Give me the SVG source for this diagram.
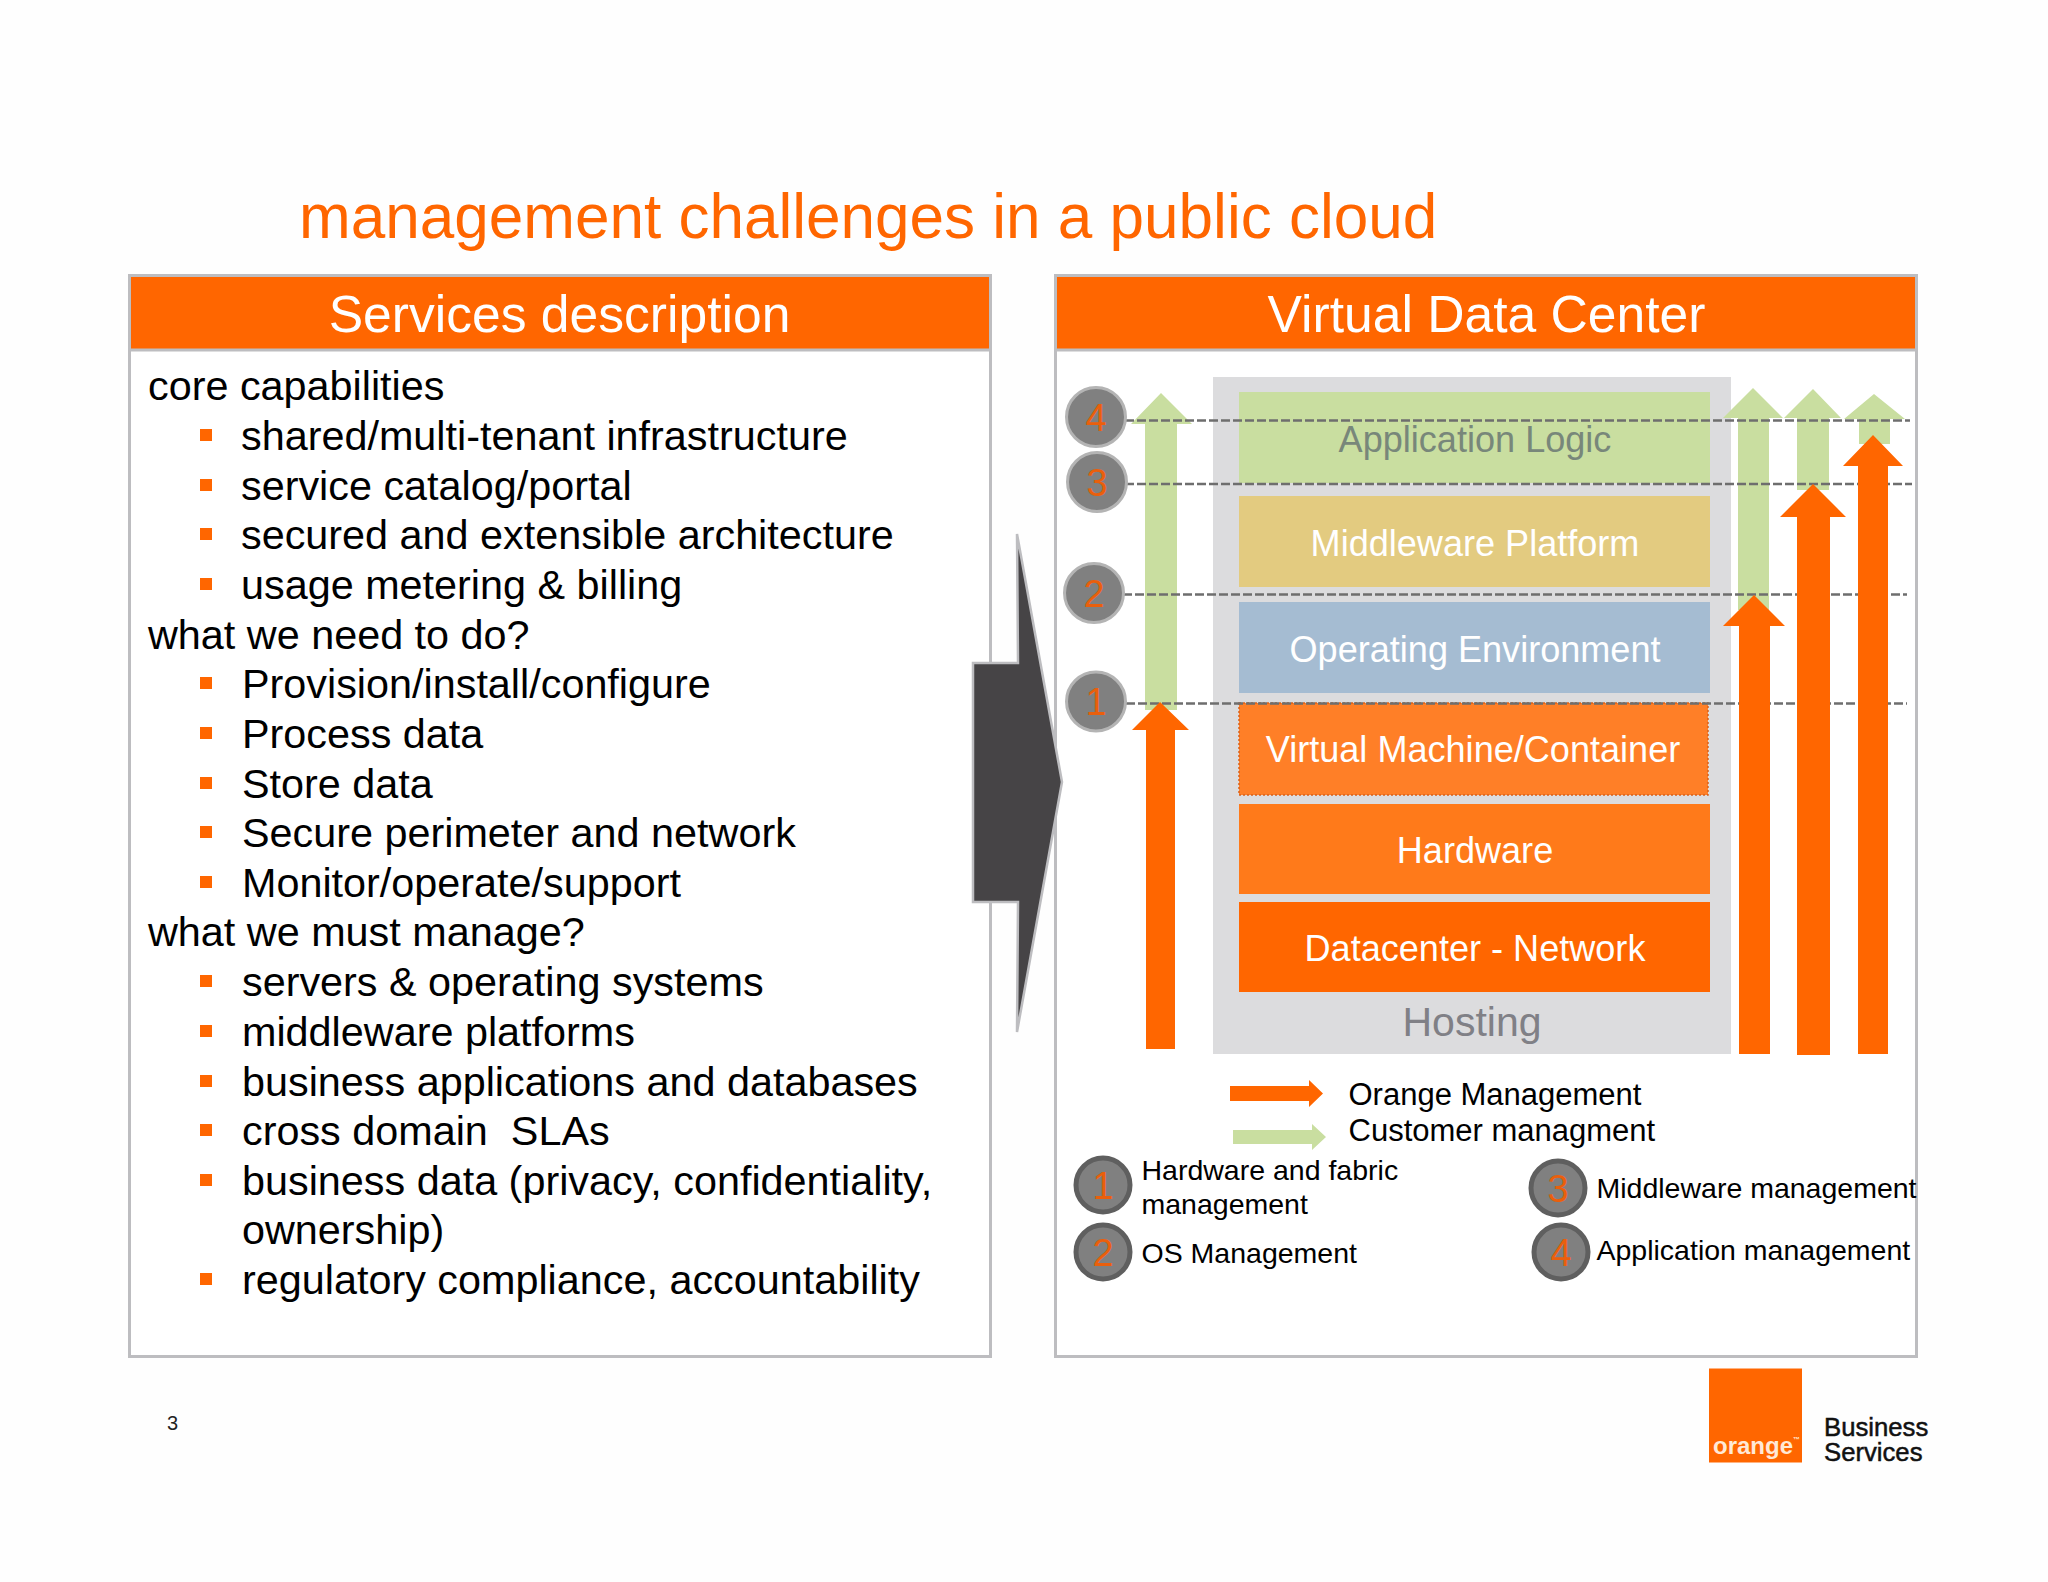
<svg xmlns="http://www.w3.org/2000/svg" width="2048" height="1582" viewBox="0 0 2048 1582">
<style>
text{font-family:"Liberation Sans",Arial,sans-serif;white-space:pre}
.panel{fill:#fff;stroke:#bdbdc0;stroke-width:3}
.hdr{fill:#ff6600}
.rule{stroke:#bdbdc0;stroke-width:3}
.ht{font-size:51.6px;fill:#fff;text-anchor:middle}
.l{font-size:41.35px;fill:#000}
.b{fill:#ff6600}
.bx{font-size:36.1px;fill:#fff;text-anchor:middle}
.g{fill:#c9dea0}
.o{fill:#ff6600}
.dash{stroke:#6e6e6e;stroke-width:2.5;stroke-dasharray:9 3;fill:none}
.c1{fill:#808080;stroke:#b4b4b4;stroke-width:3}
.c2{fill:#808080;stroke:#5f5f5f;stroke-width:5}
.n{font-size:38px;fill:#ea5f0c;text-anchor:middle}
.lg{font-size:31px;fill:#000}
.lg2{font-size:28.5px;fill:#000}
</style>
<rect width="2048" height="1582" fill="#fefefe"/>
<text id="title" x="299" y="237.500" font-size="62.050" fill="#ff6600">management challenges in a public cloud</text>
<g id="panel-services">
<rect class="panel" x="129.500" y="275.500" width="861" height="1081"/>
<rect class="hdr" x="131" y="277" width="858" height="72"/>
<line class="rule" x1="131" y1="350" x2="989" y2="350"/>
<text class="ht" x="559.500" y="332">Services description</text>
<text class="l" x="148" y="400">core capabilities</text>
<rect class="b" x="200" y="429" width="12" height="12"/><text class="l" x="241" y="450">shared/multi-tenant infrastructure</text>
<rect class="b" x="200" y="479" width="12" height="12"/><text class="l" x="241" y="500">service catalog/portal</text>
<rect class="b" x="200" y="528" width="12" height="12"/><text class="l" x="241" y="549">secured and extensible architecture</text>
<rect class="b" x="200" y="578" width="12" height="12"/><text class="l" x="241" y="599">usage metering &amp; billing</text>
<text class="l" x="148" y="648.500">what we need to do?</text>
<rect class="b" x="200" y="677" width="12" height="12"/><text class="l" x="242" y="698">Provision/install/configure</text>
<rect class="b" x="200" y="727" width="12" height="12"/><text class="l" x="242" y="748">Process data</text>
<rect class="b" x="200" y="777" width="12" height="12"/><text class="l" x="242" y="798">Store data</text>
<rect class="b" x="200" y="826" width="12" height="12"/><text class="l" x="242" y="847">Secure perimeter and network</text>
<rect class="b" x="200" y="876" width="12" height="12"/><text class="l" x="242" y="897">Monitor/operate/support</text>
<text class="l" x="148" y="946">what we must manage?</text>
<rect class="b" x="200" y="975" width="12" height="12"/><text class="l" x="242" y="996">servers &amp; operating systems</text>
<rect class="b" x="200" y="1025" width="12" height="12"/><text class="l" x="242" y="1046">middleware platforms</text>
<rect class="b" x="200" y="1075" width="12" height="12"/><text class="l" x="242" y="1095.500">business applications and databases</text>
<rect class="b" x="200" y="1124" width="12" height="12"/><text class="l" x="242" y="1145">cross domain  SLAs</text>
<rect class="b" x="200" y="1174" width="12" height="12"/><text class="l" x="242" y="1194.500">business data (privacy, confidentiality,</text>
<text class="l" x="242" y="1244">ownership)</text>
<rect class="b" x="200" y="1273" width="12" height="12"/><text class="l" x="242" y="1294">regulatory compliance, accountability</text>
</g>
<g id="panel-vdc">
<rect class="panel" x="1055.500" y="275.500" width="861" height="1081"/>
<rect class="hdr" x="1057" y="277" width="858" height="72"/>
<line class="rule" x1="1057" y1="350" x2="1915" y2="350"/>
<text class="ht" x="1486.500" y="332">Virtual Data Center</text>
</g>
<polygon id="big-arrow" points="973,663 1018,663 1017,534 1062,782 1017,1032 1018,902 973,902" fill="#464446" stroke="#bdbdc0" stroke-width="2.500"/>
<g id="hosting">
<rect x="1213" y="377" width="518" height="677" fill="#dcdcde"/>
<text x="1472" y="1036" font-size="41" fill="#808086" text-anchor="middle">Hosting</text>
</g>
<g id="app"><rect class="g" x="1239" y="392" width="471" height="91"/><text class="bx" style="fill:#78877a" x="1475" y="452">Application Logic</text></g>
<g id="mid"><rect x="1239" y="496" width="471" height="91" fill="#e3cb80"/><text class="bx" x="1475" y="555.500">Middleware Platform</text></g>
<g id="os"><rect x="1239" y="602" width="471" height="91" fill="#a5bcd2"/><text class="bx" x="1475" y="661.500">Operating Environment</text></g>
<g id="vm"><rect x="1239" y="703" width="469" height="92" fill="#ff7f27" stroke="#d9601a" stroke-width="1.500" stroke-dasharray="2 2"/><text class="bx" x="1473" y="762">Virtual Machine/Container</text></g>
<g id="hw"><rect x="1239" y="804" width="471" height="90" fill="#ff7a1a"/><text class="bx" x="1475" y="863">Hardware</text></g>
<g id="dc"><rect x="1239" y="902" width="471" height="90" fill="#ff6600"/><text class="bx" x="1475" y="961">Datacenter - Network</text></g>
<g id="connectors">
<polygon class="g" points="1161,393 1192,424 1177,424 1177,710 1145,710 1145,424 1131,424"/>
<polygon class="g" points="1753,388 1783,418 1769,418 1769,610 1738,610 1738,418 1723,418"/>
<polygon class="g" points="1813,389 1841,418 1829,418 1829,490 1797,490 1797,418 1784,418"/>
<polygon class="g" points="1874,394 1905,419 1890,419 1890,444 1859,444 1859,419 1844,419"/>
<path class="dash" d="M1125 420.500H1910M1125 484H1912M1123 594.500H1907M1126 703.500H1907"/>
<polygon class="o" points="1160,702 1189,730 1175,730 1175,1049 1146,1049 1146,730 1132,730"/>
<polygon class="o" points="1754,595 1785,626 1770,626 1770,1054 1739,1054 1739,626 1723,626"/>
<polygon class="o" points="1813,484 1846,517 1830,517 1830,1055 1797,1055 1797,517 1780,517"/>
<polygon class="o" points="1873,435 1903,466 1888,466 1888,1054 1858,1054 1858,466 1843,466"/>
</g>
<g id="m4"><circle class="c1" cx="1096" cy="417" r="29.500"/><text class="n" x="1096" y="431">4</text></g>
<g id="m3"><circle class="c1" cx="1097" cy="482" r="29.500"/><text class="n" x="1097" y="496">3</text></g>
<g id="m2"><circle class="c1" cx="1094" cy="593" r="29.500"/><text class="n" x="1094" y="607">2</text></g>
<g id="m1"><circle class="c1" cx="1096" cy="701.500" r="29.500"/><text class="n" x="1096" y="715">1</text></g>
<g id="legend">
<polygon class="o" points="1230,1086 1309,1086 1309,1080 1323,1093.500 1309,1107 1309,1101 1230,1101"/>
<polygon class="g" points="1233,1130 1312,1130 1312,1124 1326,1137 1312,1150 1312,1144 1233,1144"/>
<text class="lg" x="1348.500" y="1105">Orange Management</text>
<text class="lg" x="1348.500" y="1141">Customer managment</text>
<circle class="c2" cx="1103" cy="1185" r="27"/><text class="n" x="1103" y="1199">1</text>
<circle class="c2" cx="1103" cy="1252" r="27"/><text class="n" x="1103" y="1266">2</text>
<circle class="c2" cx="1558" cy="1188" r="27"/><text class="n" x="1558" y="1202">3</text>
<circle class="c2" cx="1561" cy="1252" r="27"/><text class="n" x="1561" y="1266">4</text>
<text class="lg2" x="1141.500" y="1180">Hardware and fabric</text>
<text class="lg2" x="1141.500" y="1214">management</text>
<text class="lg2" x="1141.500" y="1263">OS Management</text>
<text class="lg2" x="1596.500" y="1198">Middleware management</text>
<text class="lg2" x="1596.500" y="1260">Application management</text>
</g>
<text id="page" x="167" y="1430" font-size="20" fill="#222">3</text>
<g id="logo">
<rect x="1709" y="1368.500" width="93" height="94" fill="#ff6600"/>
<text x="1713" y="1454" font-size="24" font-weight="bold" fill="#ffe9d6">orange<tspan font-size="7" dy="-12">™</tspan></text>
<text x="1824" y="1436" font-size="25.700" fill="#111" stroke="#111" stroke-width=".5">Business</text>
<text x="1824" y="1461" font-size="25.700" fill="#111" stroke="#111" stroke-width=".5">Services</text>
</g>
</svg>
